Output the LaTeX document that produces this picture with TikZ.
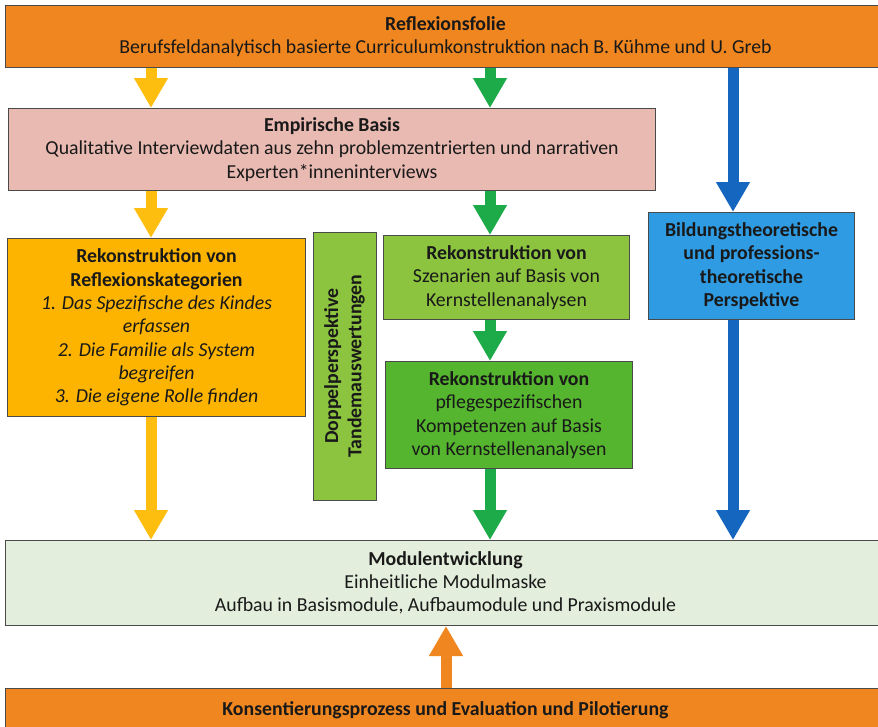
\documentclass[tikz,border=0pt]{standalone}
\usepackage{fontspec}
\setmainfont{Carlito}
\usetikzlibrary{arrows.meta}
\definecolor{orangeC}{HTML}{F0861F}
\definecolor{pinkC}{HTML}{E8BAB2}
\definecolor{goldC}{HTML}{FDB400}
\definecolor{lgreenC}{HTML}{8CC43F}
\definecolor{mgreenC}{HTML}{55B52F}
\definecolor{blueC}{HTML}{2E9BE2}
\definecolor{paleC}{HTML}{E3EFDC}
\definecolor{yArrow}{HTML}{FDBE0F}
\definecolor{gArrow}{HTML}{1DAA48}
\definecolor{bArrow}{HTML}{1566BE}
\definecolor{oArrow}{HTML}{F0861F}
\definecolor{borderC}{HTML}{4A4A4A}
\begin{document}
\begin{tikzpicture}[x=1pt,y=-1pt,
  txt/.style={font=\fontsize{19.8}{23.3}\selectfont},
  box/.style={draw=borderC, line width=1pt, anchor=north west, inner sep=0pt,
    align=center, txt, text=black!90},
  flow/.style={line width=11pt, -{Triangle[width=32pt,length=30pt]}},
]
\useasboundingbox (0,0) rectangle (878,726);

% boxes
\node[box, fill=orangeC, minimum width=880pt, minimum height=62pt] (top) at (5,5)
  {\textbf{Reflexionsfolie}\\Berufsfeldanalytisch basierte Curriculumkonstruktion nach B. Kühme und U. Greb};
\node[box, fill=pinkC, minimum width=647pt, minimum height=82pt] (emp) at (8,108)
  {\textbf{Empirische Basis}\\Qualitative Interviewdaten aus zehn problemzentrierten und narrativen\\Experten*inneninterviews};
\node[box, fill=goldC, minimum width=298pt, minimum height=178pt] (refl) at (7,238)
  {\textbf{Rekonstruktion von}\\\textbf{Reflexionskategorien}\\\textit{1. Das Spezifische des Kindes}\\\textit{erfassen}\\\textit{2. Die Familie als System}\\\textit{begreifen}\\\textit{3. Die eigene Rolle finden}};
\node[box, fill=lgreenC, minimum width=268pt, minimum height=63pt, rotate=90, anchor=center, font=\fontsize{19.8}{23.3}\selectfont\bfseries] (dop) at (344.5,366)
  {Doppelperspektive\\Tandemauswertungen};
\node[box, fill=lgreenC, minimum width=246pt, minimum height=84pt] (sz) at (383,235)
  {\textbf{Rekonstruktion von}\\Szenarien auf Basis von\\Kernstellenanalysen};
\node[box, fill=mgreenC, minimum width=247pt, minimum height=107pt] (komp) at (385,361)
  {\textbf{Rekonstruktion von}\\pflegespezifischen\\Kompetenzen auf Basis\\von Kernstellenanalysen};
\node[box, fill=blueC, minimum width=206pt, minimum height=107pt, font=\fontsize{19.8}{23.3}\selectfont\bfseries] (bild) at (648,212)
  {Bildungstheoretische\\und professions-\\theoretische\\Perspektive};
\node[box, fill=paleC, minimum width=880pt, minimum height=85pt] (mod) at (5,540)
  {\textbf{Modulentwicklung}\\Einheitliche Modulmaske\\Aufbau in Basismodule, Aufbaumodule und Praxismodule};
\node[box, fill=orangeC, minimum width=880pt, minimum height=50pt, font=\fontsize{19.8}{23.3}\selectfont\bfseries] (kons) at (5,688)
  {\raisebox{9pt}{Konsentierungsprozess und Evaluation und Pilotierung}};

% arrow columns
\coordinate (cy) at (151,0);
\coordinate (cg) at (490,0);
\coordinate (cb) at (733,0);
\coordinate (co) at (446,0);

% arrows
\draw[flow, draw=yArrow, fill=yArrow] (top.south -| cy) -- (emp.north -| cy);
\draw[flow, draw=gArrow, fill=gArrow] (top.south -| cg) -- (emp.north -| cg);
\draw[flow, draw=bArrow, fill=bArrow] (top.south -| cb) -- (bild.north -| cb);
\draw[flow, draw=yArrow, fill=yArrow] (emp.south -| cy) -- (refl.north -| cy);
\draw[flow, draw=gArrow, fill=gArrow] (emp.south -| cg) -- (sz.north -| cg);
\draw[flow, draw=gArrow, fill=gArrow] (sz.south -| cg) -- (komp.north -| cg);
\draw[flow, draw=yArrow, fill=yArrow] (refl.south -| cy) -- (mod.north -| cy);
\draw[flow, draw=gArrow, fill=gArrow] (komp.south -| cg) -- (mod.north -| cg);
\draw[flow, draw=bArrow, fill=bArrow] (bild.south -| cb) -- (mod.north -| cb);
\draw[flow, draw=oArrow, fill=oArrow] (kons.north -| co) -- (mod.south -| co);
\end{tikzpicture}
\end{document}
